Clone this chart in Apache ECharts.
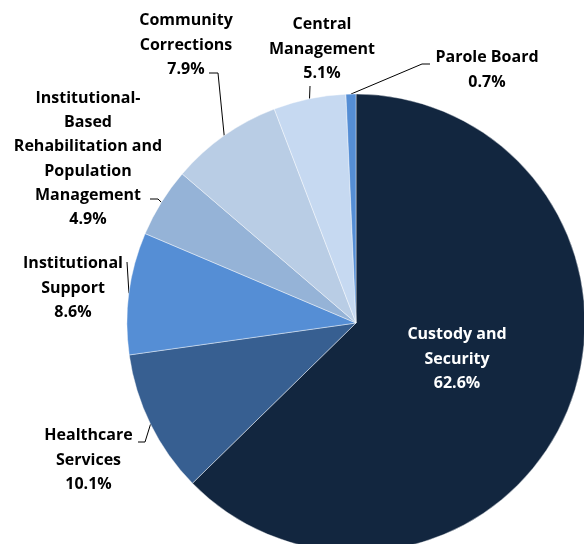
<!DOCTYPE html>
<html>
<head>
<meta charset="utf-8">
<script src="https://cdn.jsdelivr.net/npm/echarts@6/dist/echarts.min.js"></script>
<style>
  html, body { margin: 0; padding: 0; background: #fff; }
  #chart { width: 584px; height: 544px; }
</style>
</head>
<body>
<div id="chart"></div>
<script>
// Budget shares by program area (percent of total)
const categories = [
  'Custody and\nSecurity',
  'Healthcare\nServices',
  'Institutional\nSupport',
  'Institutional-\nBased\nRehabilitation and\nPopulation\nManagement',
  'Community\nCorrections',
  'Central\nManagement',
  'Parole Board'
];
const shares = [62.6, 10.1, 8.6, 4.9, 7.9, 5.1, 0.7];
const sliceColors = ['#12263F', '#375F91', '#558ED5', '#95B3D7', '#B9CDE5', '#C6D9F1', '#558ED5'];

// Pie geometry (px)
const CX = 356, CY = 323, R = 229;

// Label block centres and leader-line bends (px)
const labelSpots = [
  { x: 457, y: 359 },
  { x: 88.5, y: 460, bend: [[145, 442], [138, 442]] },
  { x: 73, y: 288, bend: [[127, 262]] },
  { x: 88, y: 159, bend: [[158, 199], [150, 199]] },
  { x: 186, y: 45, bend: [[218, 73], [209, 73]] },
  { x: 322, y: 49, bend: [[310, 86]] },
  { x: 487, y: 70, bend: [[422, 64], [430, 64]] }
];

const total = shares.reduce((a, b) => a + b, 0);
// point on the rim at the middle of slice i (clockwise from 12 o'clock)
function rimPoint(i) {
  let before = 0;
  for (let k = 0; k < i; k++) before += shares[k];
  const a = (before + shares[i] / 2) / total * 2 * Math.PI;
  return [CX + R * Math.sin(a), CY - R * Math.cos(a)];
}

const chart = echarts.init(document.getElementById('chart'), null, { renderer: 'canvas' });

chart.setOption({
  animation: false,
  backgroundColor: '#ffffff',
  series: [{
    type: 'pie',
    center: [CX, CY],
    radius: R,
    startAngle: 90,
    clockwise: true,
    avoidLabelOverlap: false,
    emphasis: { disabled: true },
    itemStyle: { borderColor: 'rgba(255,255,255,0.7)', borderWidth: 0.6 },
    label: {
      show: true,
      position: 'outside',
      formatter: p => p.name + '\n' + p.value.toFixed(1) + '%',
      fontFamily: 'Open Sans',
      fontWeight: 'bold',
      fontSize: 16,
      lineHeight: 24.3,
      color: '#000',
      align: 'center'
    },
    labelLine: {
      show: true,
      length: 10,
      length2: 10,
      smooth: false,
      lineStyle: { color: '#000', width: 1 }
    },
    labelLayout: p => {
      const spot = labelSpots[p.dataIndex];
      const out = { x: spot.x, y: spot.y, align: 'center', verticalAlign: 'middle' };
      if (spot.bend) {
        out.labelLinePoints = [rimPoint(p.dataIndex)].concat(spot.bend);
      }
      return out;
    },
    data: categories.map((name, i) => {
      const item = { name: name, value: shares[i], itemStyle: { color: sliceColors[i] } };
      if (i === 0) {
        item.label = { position: 'inside', color: '#fff' };
        item.labelLine = { show: false };
      }
      return item;
    })
  }]
});
</script>
</body>
</html>
